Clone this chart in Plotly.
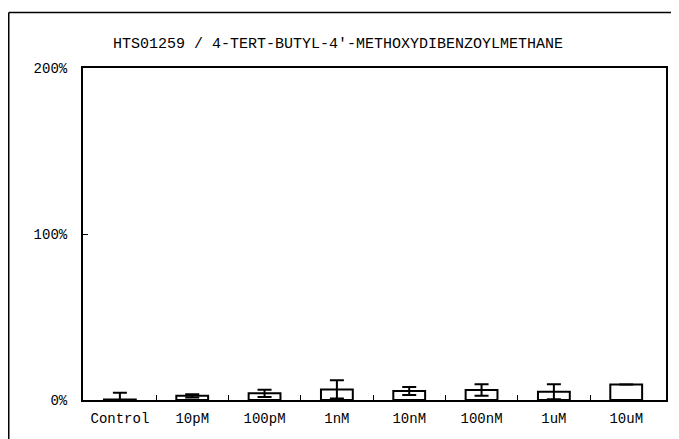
import plotly.graph_objects as go

# Odpowiedź na stężenie (% kontroli)
kategorie = ['Control', '10pM', '100pM', '1nM', '10nM', '100nM', '1uM', '10uM']
wartosci = [0.3, 2.5, 4.0, 6.4, 5.4, 6.0, 5.0, 9.3]
bledy = [4.0, 1.0, 2.2, 5.5, 2.4, 3.5, 4.5, 0.0]
y_ticki = [0, 100, 200]
y_etykiety = ['0%', '100%', '200%']

# strona ma 8 px marginesu body, więc figura jest o tyle mniejsza
OFF = 8
W, H = 679 - OFF, 439 - OFF
L, R, T, B = 83 - OFF, 11, 68 - OFF, 39

def px_x(x):
    return (x - OFF - L) / (W - L - R)

def px_y(y):
    return (H - B - (y - OFF)) / (H - T - B)

poz = list(range(len(kategorie)))

fig = go.Figure(go.Bar(
    x=poz,
    y=wartosci,
    width=0.44,
    marker=dict(color='white', line=dict(color='black', width=2)),
    error_y=dict(type='data', array=bledy, color='black', thickness=2, width=7),
))

czcionka = 'Liberation Mono, DejaVu Sans Mono, monospace'

fig.update_layout(
    width=W, height=H,
    margin=dict(l=L, r=R, t=T, b=B),
    paper_bgcolor='white', plot_bgcolor='white',
    showlegend=False,
    font=dict(family=czcionka, size=14, color='black'),
    title=dict(text='HTS01259 / 4-TERT-BUTYL-4\'-METHOXYDIBENZOYLMETHANE',
               x=(338 - OFF) / W, xanchor='center', y=1 - (43 - OFF) / H, yanchor='middle',
               font=dict(family=czcionka, size=15, color='black')),
    xaxis=dict(
        range=[-0.51, 7.55],
        tickmode='array', tickvals=poz, ticktext=kategorie,
        ticks='', showgrid=False, zeroline=False,
        showline=True, linecolor='black', linewidth=2, mirror=True,
        ticklabelstandoff=4,
        minor=dict(tickmode='array', tickvals=[p + 0.5 for p in poz[:-1]],
                   ticks='inside', ticklen=5, tickcolor='black', tickwidth=1),
    ),
    yaxis=dict(
        range=[0, 200],
        tickmode='array', tickvals=y_ticki, ticktext=y_etykiety,
        ticks='inside', ticklen=5, tickcolor='black',
        showgrid=False, zeroline=False,
        showline=True, linecolor='black', linewidth=2, mirror=True,
        ticklabelstandoff=11,
    ),
    shapes=[
        dict(type='line', xref='paper', yref='paper',
             x0=px_x(8.5), x1=px_x(690), y0=px_y(12.5), y1=px_y(12.5),
             line=dict(color='black', width=1.5)),
        dict(type='line', xref='paper', yref='paper',
             x0=px_x(8.5), x1=px_x(8.5), y0=px_y(12.5), y1=px_y(450),
             line=dict(color='black', width=1.5)),
    ],
)

fig.write_html('out.html')
